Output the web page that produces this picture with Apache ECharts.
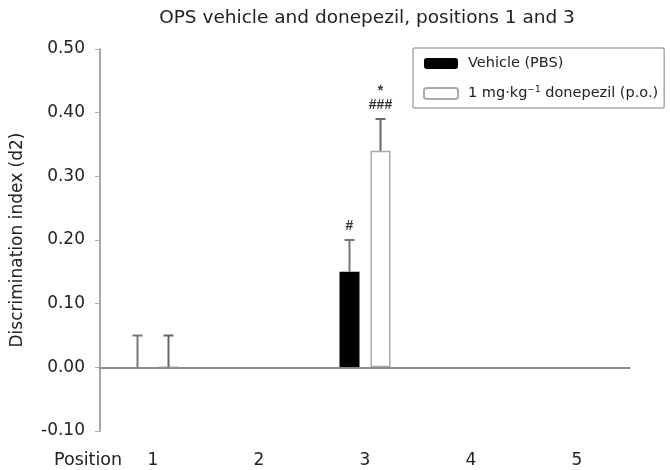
<!DOCTYPE html>
<html>
<head>
<meta charset="utf-8">
<script src="https://cdn.jsdelivr.net/npm/echarts@6/dist/echarts.min.js"></script>
<style>
  html, body { margin: 0; padding: 0; background: #fff; }
  #chart { width: 670px; height: 470px; }
</style>
</head>
<body>
<div id="chart"></div>
<script>
// data
const positions = ['1', '2', '3', '4', '5'];
const vehicleMean = [0, null, 0.15, null, null];
const vehicleErr = [0.05, null, 0.05, null, null];
const vehicleMarks = ['', '', '#', '', ''];
const donepezilMean = [0, null, 0.34, null, null];
const donepezilErr = [0.05, null, 0.05, null, null];
const donepezilMarks = ['', '', '*\n###', '', ''];

const BAR_W = 20;
const BAR_GAP = 0.55;
const OFFSET = BAR_W * (1 + BAR_GAP) / 2;
const FONT = '"DejaVu Sans", sans-serif';
const MARK_FONT = '"Liberation Sans", Arial, sans-serif';

function errData(mean, err) {
  const out = [];
  mean.forEach((m, i) => {
    if (m === null) return;
    out.push([i, m, m + err[i]]);
  });
  return out;
}

function errSeries(name, mean, err, marks, dir, color) {
  return {
    name: name + ' err',
    type: 'custom',
    silent: true,
    data: errData(mean, err),
    renderItem: function (params, api) {
      const base = api.coord([api.value(0), api.value(1)]);
      const top = api.coord([api.value(0), api.value(2)]);
      const x = base[0] + dir * OFFSET;
      const mark = marks[api.value(0)];
      const children = [
        { type: 'line', shape: { x1: x, y1: base[1], x2: x, y2: top[1] },
          style: { stroke: color, lineWidth: 2 } },
        { type: 'line', shape: { x1: x - 5, y1: top[1], x2: x + 5, y2: top[1] },
          style: { stroke: color, lineWidth: 2 } }
      ];
      if (mark) {
        children.push({
          type: 'text',
          style: { text: mark, x: x, y: top[1] - 7, align: 'center', verticalAlign: 'bottom',
                   font: 'bold 14px ' + MARK_FONT, fill: '#333', lineHeight: 14 }
        });
      }
      return { type: 'group', children: children };
    },
    z: 3
  };
}

const chart = echarts.init(document.getElementById('chart'));
const option = {
  animation: false,
  backgroundColor: '#fff',
  title: {
    text: 'OPS vehicle and donepezil, positions 1 and 3',
    left: 362,
    textAlign: 'center',
    top: 4,
    textStyle: { fontFamily: FONT, fontSize: 18.5, fontWeight: 'normal', color: '#222' }
  },
  legend: {
    orient: 'vertical',
    left: 413,
    top: 48,
    padding: [8, 6, 7, 10],
    itemWidth: 34,
    itemHeight: 11,
    itemGap: 14,
    borderColor: '#aaa',
    borderWidth: 1.5,
    borderRadius: 2,
    data: ['Vehicle (PBS)', 'donepezil'],
    formatter: function (n) {
      return n === 'donepezil' ? '1 mg·kg{sup|−1} donepezil (p.o.)' : n;
    },
    textStyle: {
      fontFamily: FONT, fontSize: 14.5, color: '#222', padding: [0, 0, 0, 5],
      rich: { sup: { fontFamily: FONT, fontSize: 9, color: '#222', padding: [0, 0, 8, 0] } }
    }
  },
  graphic: [{
    type: 'text',
    left: 54,
    top: 451,
    style: { text: 'Position', font: '17.5px ' + FONT, fill: '#222' }
  }],
  grid: { left: 100, right: 40, top: 49, bottom: 39 },
  xAxis: {
    type: 'category',
    data: positions,
    axisLine: { lineStyle: { color: '#777', width: 1.5 } },
    axisTick: { alignWithLabel: true, length: 4, lineStyle: { color: '#bbb' } },
    axisLabel: { fontFamily: FONT, fontSize: 17, color: '#222', margin: 21 }
  },
  yAxis: {
    type: 'value',
    min: -0.1,
    max: 0.5,
    interval: 0.1,
    name: 'Discrimination index (d2)',
    nameLocation: 'middle',
    nameGap: 74,
    nameTextStyle: { fontFamily: FONT, fontSize: 17, color: '#222' },
    axisLine: { show: true, lineStyle: { color: '#888', width: 1.5 } },
    axisTick: { show: true, length: 5, lineStyle: { color: '#aaa' } },
    splitLine: { show: false },
    axisLabel: {
      fontFamily: FONT, fontSize: 17, color: '#222', margin: 15,
      formatter: v => v.toFixed(2)
    }
  },
  series: [
    {
      name: 'Vehicle (PBS)',
      type: 'bar',
      data: vehicleMean,
      barWidth: BAR_W,
      barGap: (BAR_GAP * 100) + '%',
      itemStyle: { color: '#000' },
      markLine: {
        silent: true,
        symbol: 'none',
        label: { show: false },
        lineStyle: { color: '#888', width: 1.5, type: 'solid' },
        data: [{ yAxis: 0 }]
      }
    },
    {
      name: 'donepezil',
      type: 'bar',
      data: donepezilMean,
      barWidth: BAR_W,
      itemStyle: { color: '#fff', borderColor: '#aaa', borderWidth: 1.5 }
    },
    errSeries('Vehicle (PBS)', vehicleMean, vehicleErr, vehicleMarks, -1, '#777'),
    errSeries('donepezil', donepezilMean, donepezilErr, donepezilMarks, 1, '#666')
  ]
};
chart.setOption(option);
</script>
</body>
</html>
